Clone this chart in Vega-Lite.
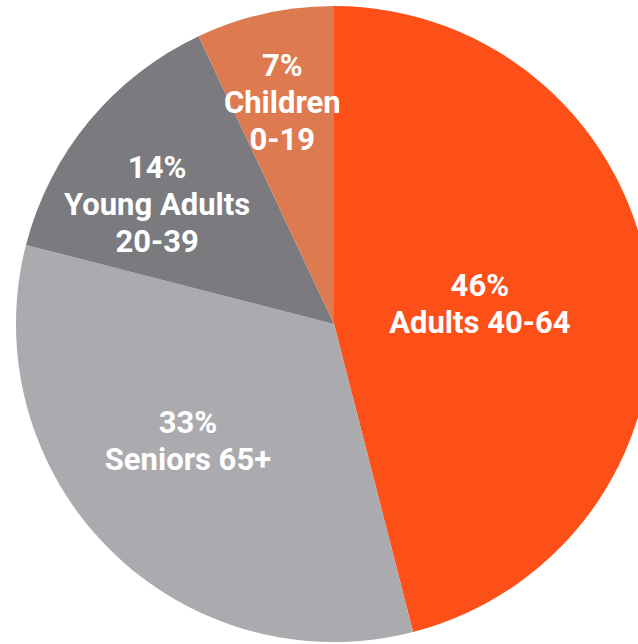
{
  "$schema": "https://vega.github.io/schema/vega-lite/v6.json",
  "width": 638,
  "height": 644,
  "autosize": "none",
  "padding": {"left": 15, "top": 2, "right": 0, "bottom": 0},
  "background": "white",
  "view": {"stroke": null},
  "data": {
    "values": [
      {"group": "Adults 40-64", "pct": 46, "ord": 1, "label": "46%\nAdults 40-64"},
      {"group": "Seniors 65+", "pct": 33, "ord": 2, "label": "33%\nSeniors 65+"},
      {"group": "Young Adults 20-39", "pct": 14, "ord": 3, "label": "14%\nYoung Adults\n20-39"},
      {"group": "Children 0-19", "pct": 7, "ord": 4, "label": "7%\nChildren\n0-19"}
    ]
  },
  "encoding": {
    "theta": {"field": "pct", "type": "quantitative", "stack": true},
    "order": {"field": "ord", "type": "quantitative", "sort": "ascending"}
  },
  "layer": [
    {
      "mark": {"type": "arc", "outerRadius": 318},
      "encoding": {
        "color": {
          "field": "group",
          "type": "nominal",
          "scale": {
            "domain": ["Adults 40-64", "Seniors 65+", "Young Adults 20-39", "Children 0-19"],
            "range": ["#FD5018", "#ABABAF", "#7B7B7F", "#DE7A50"]
          },
          "legend": null
        }
      }
    },
    {
      "mark": {"type": "text", "radius": 147, "dy": -19, "font": "Roboto", "fontWeight": "bold", "fontSize": 31, "lineHeight": 37, "lineBreak": "\n", "color": "white", "align": "center", "baseline": "middle"},
      "encoding": {"text": {"condition": {"test": "datum.ord == 1", "field": "label"}, "value": ""}}
    },
    {
      "mark": {"type": "text", "radius": 184, "dx": -16, "dy": -30, "font": "Roboto", "fontWeight": "bold", "fontSize": 31, "lineHeight": 37, "lineBreak": "\n", "color": "white", "align": "center", "baseline": "middle"},
      "encoding": {"text": {"condition": {"test": "datum.ord == 2", "field": "label"}, "value": ""}}
    },
    {
      "mark": {"type": "text", "radius": 214, "dx": -12, "dy": -19, "font": "Roboto", "fontWeight": "bold", "fontSize": 31, "lineHeight": 37, "lineBreak": "\n", "color": "white", "align": "center", "baseline": "middle"},
      "encoding": {"text": {"condition": {"test": "datum.ord == 3", "field": "label"}, "value": ""}}
    },
    {
      "mark": {"type": "text", "radius": 228, "dx": -2, "dy": -34, "font": "Roboto", "fontWeight": "bold", "fontSize": 31, "lineHeight": 37, "lineBreak": "\n", "color": "white", "align": "center", "baseline": "middle"},
      "encoding": {"text": {"condition": {"test": "datum.ord == 4", "field": "label"}, "value": ""}}
    }
  ]
}
